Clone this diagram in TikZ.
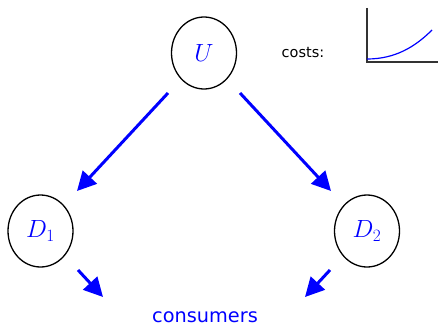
\documentclass[tikz,border=0pt]{standalone}
\usepackage{fontspec}
\setsansfont{DejaVu Sans}
\usetikzlibrary{arrows.meta,shapes.geometric}
\begin{document}
\begin{tikzpicture}[x=1pt,y=-1pt,
  circ/.style={draw=black,line width=1.3pt,shape=ellipse,minimum width=65pt,minimum height=72pt,inner sep=0pt,text=blue,font=\fontsize{23}{27}\selectfont},
  arr/.style={draw=blue,line width=3pt,-{Triangle[length=19pt,width=19pt]}}]
\useasboundingbox (0,0) rectangle (438,326);
\node[circ] (U) at (204,53) {$U$};
\node[circ] (D1) at (40.5,231) {$D_1$};
\node[circ] (D2) at (367,231) {$D_2$};
\node[text=blue,font=\sffamily\fontsize{19.3}{23}\selectfont] (C) at (205,317) {consumers};
\node[font=\sffamily\fontsize{14.5}{17}\selectfont] (cost) at (303,53) {costs:};
\coordinate (a1s) at (168,93);
\coordinate (a1e) at (77,191);
\coordinate (a2s) at (240,93);
\coordinate (a2e) at (331,191);
\coordinate (a3s) at (78,270);
\coordinate (a3e) at (103,297);
\coordinate (a4s) at (330,270);
\coordinate (a4e) at (305,297);
\draw[arr] (a1s) -- (a1e);
\draw[arr] (a2s) -- (a2e);
\draw[arr] (a3s) -- (a3e);
\draw[arr] (a4s) -- (a4e);
\coordinate (o) at (367,62);
\coordinate (yt) at (367,8);
\coordinate (xr) at (438,62);
\draw[line width=1.3pt,black!80] (yt) -- (o) -- (xr);
\coordinate (c0) at (367,59);
\coordinate (c1) at (432,30);
\draw[blue,line width=1.2pt] (c0) .. controls (395,59) and (415,47) .. (c1);
\end{tikzpicture}
\end{document}
